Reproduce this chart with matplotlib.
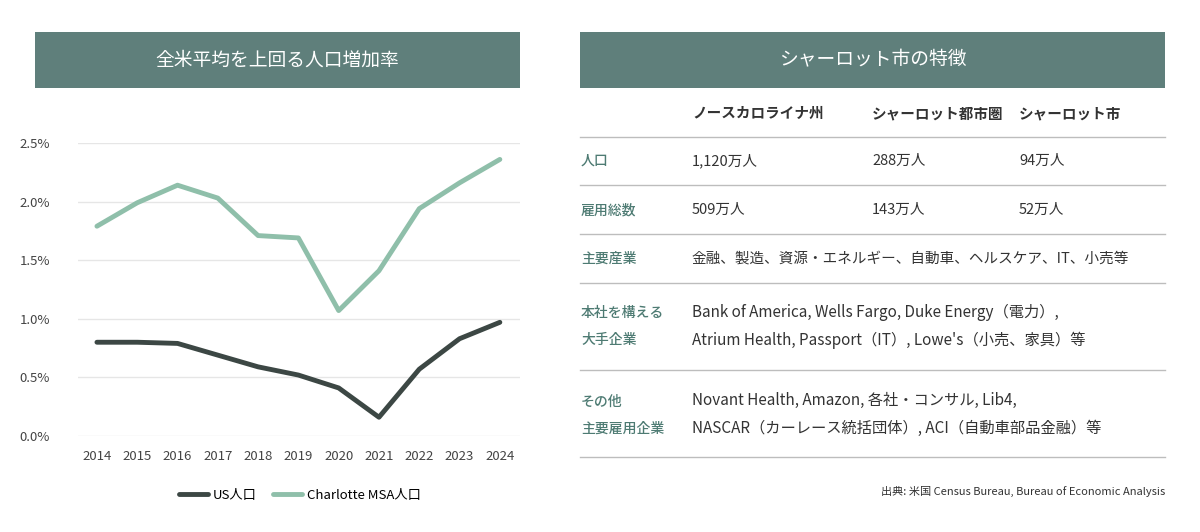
import matplotlib.pyplot as plt
from matplotlib.patches import Rectangle
from matplotlib.ticker import FuncFormatter

plt.rcParams['font.family'] = ['Noto Sans CJK JP', 'DejaVu Sans']

years = list(range(2014, 2025))
us_pop = [0.80, 0.80, 0.79, 0.69, 0.59, 0.52, 0.41, 0.16, 0.57, 0.83, 0.97]
clt_pop = [1.79, 1.99, 2.14, 2.03, 1.71, 1.69, 1.07, 1.41, 1.94, 2.16, 2.36]

col_heads = ['ノースカロライナ州', 'シャーロット都市圏', 'シャーロット市']
pop_row = ['1,120万人', '288万人', '94万人']
emp_row = ['509万人', '143万人', '52万人']
industries = '金融、製造、資源・エネルギー、自動車、ヘルスケア、IT、小売等'
hq_lines = ['Bank of America, Wells Fargo, Duke Energy（電力）,',
            'Atrium Health, Passport（IT）, Lowe\'s（小売、家具）等']
other_lines = ['Novant Health, Amazon, 各社・コンサル, Lib4,',
               'NASCAR（カーレース統括団体）, ACI（自動車部品金融）等']

W, H = 1200, 532
HEAD = '#5f7f7b'
GREEN = '#8fbfaa'
DARK = '#3c4744'
LABEL = '#4e7b73'
TXT = '#333333'

fig = plt.figure(figsize=(12, 5.32), dpi=100)

def px(x, y):
    return x / W, 1 - y / H

def text(x, y, s, **kw):
    fx, fy = px(x, y)
    fig.text(fx, fy, s, va='center', **kw)

# headers
for x0, x1, title in [(35, 520, '全米平均を上回る人口増加率'), (580, 1165, 'シャーロット市の特徴')]:
    fx, fy = px(x0, 88)
    fig.add_artist(Rectangle((fx, fy), (x1 - x0) / W, 56 / H, transform=fig.transFigure,
                             color=HEAD, lw=0))
    text((x0 + x1) / 2, 60, title, ha='center', color='white', fontsize=13.5)

# line chart
l, b = px(78, 436)
ax = fig.add_axes([l, b, (520 - 78) / W, (436 - 143) / H])
ax.plot(years, clt_pop, color=GREEN, lw=3.5, label='Charlotte MSA人口', solid_capstyle='round')
ax.plot(years, us_pop, color=DARK, lw=3.5, label='US人口', solid_capstyle='round')
ax.set_ylim(0, 2.5)
ax.set_xlim(2013.53, 2024.5)
ax.set_yticks([0, 0.5, 1.0, 1.5, 2.0, 2.5])
ax.yaxis.set_major_formatter(FuncFormatter(lambda v, p: f'{v:.1f}%'))
ax.set_xticks(years)
ax.grid(axis='y', color='#e6e6e6', lw=1)
for s in ax.spines.values():
    s.set_visible(False)
ax.tick_params(length=0, labelsize=9.5, colors='#444444', pad=10)
for t in ax.get_yticklabels():
    t.set_horizontalalignment('left')
ax.yaxis.set_tick_params(pad=42)
h, lab = ax.get_legend_handles_labels()
fig.legend(h[::-1], lab[::-1], loc='center', bbox_to_anchor=px(300, 495), ncol=2, frameon=False,
           fontsize=9.5, handlelength=2.2, columnspacing=1.2, handletextpad=0.4)

# table
cols = [692, 872, 1019]
for x, s in zip(cols, col_heads):
    text(x, 113, s, color=TXT, fontsize=10.5, fontweight='bold')
for y in [137, 185, 234, 283, 370, 457]:
    fig.add_artist(plt.Line2D([580 / W, 1165 / W], [1 - y / H] * 2, transform=fig.transFigure,
                              color='#bdbdbd', lw=1))
lab_kw = dict(color=LABEL, fontsize=10, fontweight='medium')
text(581, 161, '人口', **lab_kw)
text(581, 210, '雇用総数', **lab_kw)
for x, a, c in zip(cols, pop_row, emp_row):
    text(x, 161, a, color=TXT, fontsize=10.5)
    text(x, 210, c, color=TXT, fontsize=10.5)
text(581, 259, '主要産業', **lab_kw)
text(692, 259, industries, color=TXT, fontsize=10.5)
text(581, 313, '本社を構える', **lab_kw)
text(581, 340, '大手企業', **lab_kw)
text(692, 312, hq_lines[0], color=TXT, fontsize=11)
text(692, 340, hq_lines[1], color=TXT, fontsize=11)
text(581, 402, 'その他', **lab_kw)
text(581, 429, '主要雇用企業', **lab_kw)
text(692, 400, other_lines[0], color=TXT, fontsize=11)
text(692, 428, other_lines[1], color=TXT, fontsize=11)
text(1165, 491, '出典: 米国 Census Bureau, Bureau of Economic Analysis', ha='right',
     color=TXT, fontsize=8)

fig.savefig('out.png', dpi=100, facecolor='white')
